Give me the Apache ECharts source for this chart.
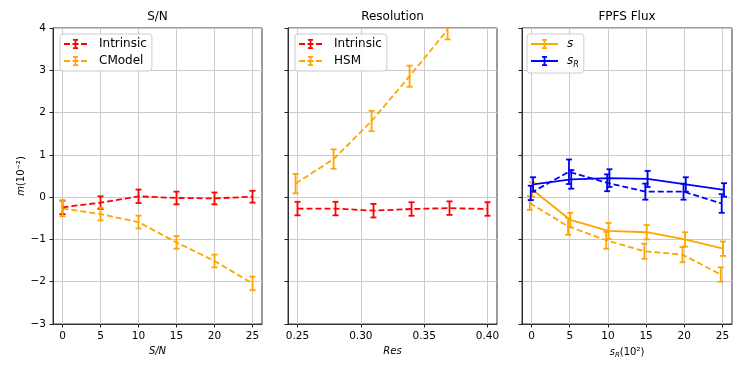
<!DOCTYPE html>
<html>
<head>
<meta charset="utf-8">
<script src="https://cdn.jsdelivr.net/npm/echarts@6/dist/echarts.min.js"></script>
<style>
  html, body { margin: 0; padding: 0; background: #fff; }
  #chart { width: 747px; height: 374px; }
</style>
</head>
<body>
<div id="chart"></div>
<script>
// S/N panel
const snX = [0, 5, 10, 15, 20, 25]
const snIntrinsic = [-0.24, -0.13, 0.02, -0.02, -0.03, 0.01]
const snIntrinsicErr = [0.16, 0.15, 0.16, 0.15, 0.14, 0.14]
const snCModel = [-0.27, -0.40, -0.59, -1.07, -1.51, -2.04]
const snCModelErr = [0.18, 0.15, 0.15, 0.15, 0.15, 0.16]

// Resolution panel
const resX = [0.25, 0.28, 0.31, 0.34, 0.37, 0.40]
const resIntrinsic = [-0.27, -0.27, -0.32, -0.28, -0.26, -0.28]
const resIntrinsicErr = [0.16, 0.16, 0.16, 0.16, 0.16, 0.16]
const resHsmX = [0.2485, 0.2785, 0.3085, 0.3385, 0.3685]
const resHsm = [0.32, 0.90, 1.80, 2.86, 3.96]
const resHsmErr = [0.23, 0.23, 0.24, 0.25, 0.23]

// FPFS flux panel (solid and dashed runs sit slightly off the ticks)
const sX = [0.08, 5.08, 10.08, 15.08, 20.08, 25.08]
const sVals = [0.18, -0.54, -0.80, -0.83, -1.00, -1.22]
const sErr = [0.17, 0.17, 0.19, 0.17, 0.17, 0.17]
const sDashX = [-0.22, 4.78, 9.78, 14.78, 19.78, 24.78]
const sDash = [-0.14, -0.69, -1.02, -1.28, -1.36, -1.83]
const sDashErr = [0.16, 0.2, 0.2, 0.18, 0.18, 0.17]
const srX = [0.2, 5.2, 10.2, 15.2, 20.2, 25.2]
const srVals = [0.30, 0.42, 0.45, 0.43, 0.30, 0.17]
const srErr = [0.17, 0.22, 0.21, 0.19, 0.17, 0.16]
const srDashX = [-0.1, 4.9, 9.9, 14.9, 19.9, 24.9]
const srDash = [0.10, 0.60, 0.34, 0.13, 0.13, -0.15]
const srDashErr = [0.17, 0.29, 0.2, 0.19, 0.19, 0.22]

const intTicks = [0, 5, 10, 15, 20, 25]
const resTicks = [0.25, 0.30, 0.35, 0.40]

const FONT = 'DejaVu Sans'
const RED = '#ff0000'
const ORANGE = '#ffa500'
const BLUE = '#0000ff'
const LW = 1.8

const grids = [
  { left: 53, top: 28, width: 209, height: 296 },
  { left: 288, top: 28, width: 209, height: 296 },
  { left: 522, top: 28, width: 210, height: 296 }
]

function drawErr (params, api) {
  let x = api.value(0)
  let y = api.value(1)
  let e = api.value(2)
  let hi = api.coord([x, y + e])
  let lo = api.coord([x, y - e])
  let cs = params.coordSys
  let top = Math.max(hi[1], cs.y)
  let bot = Math.min(lo[1], cs.y + cs.height)
  let style = { stroke: api.visual('color'), lineWidth: LW }
  let kids = [{ type: 'line', shape: { x1: hi[0], y1: top, x2: hi[0], y2: bot }, style: style }]
  if (hi[1] >= cs.y) {
    kids.push({ type: 'line', shape: { x1: hi[0] - 3, y1: hi[1], x2: hi[0] + 3, y2: hi[1] }, style: style })
  }
  if (lo[1] <= cs.y + cs.height) {
    kids.push({ type: 'line', shape: { x1: lo[0] - 3, y1: lo[1], x2: lo[0] + 3, y2: lo[1] }, style: style })
  }
  return { type: 'group', children: kids }
}

function lineSeries (name, idx, xs, ys, color, dashed) {
  return {
    name: name,
    type: 'line',
    xAxisIndex: idx,
    yAxisIndex: idx,
    data: xs.map((x, i) => [x, ys[i]]),
    symbol: 'none',
    color: color,
    lineStyle: { color: color, width: LW, type: dashed ? [6, 3] : 'solid' },
    z: 3
  }
}

function errSeries (idx, xs, ys, es, color) {
  return {
    type: 'custom',
    xAxisIndex: idx,
    yAxisIndex: idx,
    data: xs.map((x, i) => [x, ys[i], es[i]]),
    encode: { x: 0, y: 1 },
    renderItem: drawErr,
    itemStyle: { color: color },
    z: 4
  }
}

function xAxis (idx, min, max, ticks, name, fmt) {
  return {
    type: 'value',
    gridIndex: idx,
    min: min,
    max: max,
    name: name,
    nameLocation: 'middle',
    nameGap: 21,
    nameTextStyle: {
      fontFamily: FONT, fontSize: 10, color: '#000',
      rich: {
        i: { fontFamily: FONT, fontSize: 10, fontStyle: 'italic', color: '#000' },
        sub: { fontFamily: FONT, fontSize: 7, fontStyle: 'italic', color: '#000', verticalAlign: 'bottom', lineHeight: 14 },
        n: { fontFamily: FONT, fontSize: 10, color: '#000' }
      }
    },
    axisLine: { show: true, onZero: false, lineStyle: { color: '#222', width: 0.9 } },
    axisTick: { show: true, length: 3.5, customValues: ticks, lineStyle: { color: '#222' } },
    axisLabel: { customValues: ticks, margin: 7, fontFamily: FONT, fontSize: 10.5, color: '#000', formatter: fmt },
    splitLine: { show: true, lineStyle: { color: '#cbcbcb', width: 1 } }
  }
}

function yAxis (idx, showLabels) {
  return {
    type: 'value',
    gridIndex: idx,
    min: -3,
    max: 4,
    interval: 1,
    name: showLabels ? '{i|m}(10\u207b\u00b2)' : '',
    nameLocation: 'middle',
    nameGap: 26,
    nameRotate: 90,
    nameTextStyle: {
      fontFamily: FONT, fontSize: 10, color: '#000',
      rich: { i: { fontFamily: FONT, fontSize: 10, fontStyle: 'italic', color: '#000' } }
    },
    axisLine: { show: true, onZero: false, lineStyle: { color: '#222', width: 0.9 } },
    axisTick: { show: true, length: 3.5, lineStyle: { color: '#222' } },
    axisLabel: {
      show: showLabels, margin: 7, fontFamily: FONT, fontSize: 10.5, color: '#000',
      formatter: v => v < 0 ? '\u2212' + Math.abs(v) : String(v)
    },
    splitLine: { show: true, lineStyle: { color: '#cbcbcb', width: 1 } }
  }
}

const dashIcon = 'path://M0,5.1h6v1.8h-6z M8.5,5.1h6v1.8h-6z M17,5.1h6v1.8h-6z M10.6,1h1.8v10h-1.8z M9,1h5v1.8h-5z M9,9.2h5v1.8h-5z'
const solidIcon = 'path://M0,5.1h27v1.8h-27z M12.6,1h1.8v10h-1.8z M11,1h5v1.8h-5z M11,9.2h5v1.8h-5z'

function legend (left, names, icon, w, textPad, rich) {
  return {
    orient: 'vertical',
    left: left,
    top: 34,
    padding: [4, 5, 4, 4],
    itemGap: 5,
    itemWidth: w,
    itemHeight: 12,
    icon: icon,
    data: names,
    selectedMode: false,
    backgroundColor: 'rgba(255,255,255,0.85)',
    borderColor: '#cccccc',
    borderWidth: 1,
    borderRadius: 3,
    itemStyle: { borderWidth: 0 },
    textStyle: Object.assign({ fontFamily: FONT, fontSize: 12, color: '#000', padding: [0, 0, 0, textPad] }, rich ? { rich: rich } : {}),
    formatter: rich ? (n => n === 's' ? '{i|s}' : '{i|s}{sub|R}') : undefined
  }
}

const fpfsRich = {
  i: { fontFamily: FONT, fontSize: 12, fontStyle: 'italic', color: '#000', lineHeight: 16, verticalAlign: 'middle' },
  sub: { fontFamily: FONT, fontSize: 8, fontStyle: 'italic', color: '#000', lineHeight: 16, verticalAlign: 'bottom' }
}

function titleAt (text, idx) {
  let g = grids[idx]
  return {
    text: text,
    left: g.left + g.width / 2,
    top: 10,
    textAlign: 'center',
    padding: 0,
    textStyle: { fontFamily: FONT, fontSize: 12, fontWeight: 'normal', color: '#000', lineHeight: 14 }
  }
}

let chart = echarts.init(document.getElementById('chart'))
let option = {
  animation: false,
  title: [titleAt('S/N', 0), titleAt('Resolution', 1), titleAt('FPFS Flux', 2)],
  grid: grids.map(g => Object.assign({ show: true, borderColor: '#222', borderWidth: 0.9, backgroundColor: 'transparent' }, g)),
  legend: [
    legend(60, ['Intrinsic', 'CModel'], dashIcon, 23, 7),
    legend(295, ['Intrinsic', 'HSM'], dashIcon, 23, 7),
    legend(527, ['s', 'sR'], solidIcon, 27, 4, fpfsRich)
  ],
  xAxis: [
    xAxis(0, -1.25, 26.25, intTicks, '{i|S/N}', v => String(v)),
    xAxis(1, 0.2425, 0.4075, resTicks, '{i|Res}', v => v.toFixed(2)),
    xAxis(2, -1.25, 26.25, intTicks, '{i|s}{sub|R}{n|(10\u00b2)}', v => String(v))
  ],
  yAxis: [yAxis(0, true), yAxis(1, false), yAxis(2, false)],
  series: [
    lineSeries('Intrinsic', 0, snX, snIntrinsic, RED, true),
    errSeries(0, snX, snIntrinsic, snIntrinsicErr, RED),
    lineSeries('CModel', 0, snX, snCModel, ORANGE, true),
    errSeries(0, snX, snCModel, snCModelErr, ORANGE),

    lineSeries('Intrinsic', 1, resX, resIntrinsic, RED, true),
    errSeries(1, resX, resIntrinsic, resIntrinsicErr, RED),
    lineSeries('HSM', 1, resHsmX, resHsm, ORANGE, true),
    errSeries(1, resHsmX, resHsm, resHsmErr, ORANGE),

    lineSeries('s', 2, sX, sVals, ORANGE, false),
    errSeries(2, sX, sVals, sErr, ORANGE),
    lineSeries('sR', 2, srX, srVals, BLUE, false),
    errSeries(2, srX, srVals, srErr, BLUE),
    lineSeries('s dashed', 2, sDashX, sDash, ORANGE, true),
    errSeries(2, sDashX, sDash, sDashErr, ORANGE),
    lineSeries('sR dashed', 2, srDashX, srDash, BLUE, true),
    errSeries(2, srDashX, srDash, srDashErr, BLUE)
  ]
}
chart.setOption(option)
</script>
</body>
</html>
